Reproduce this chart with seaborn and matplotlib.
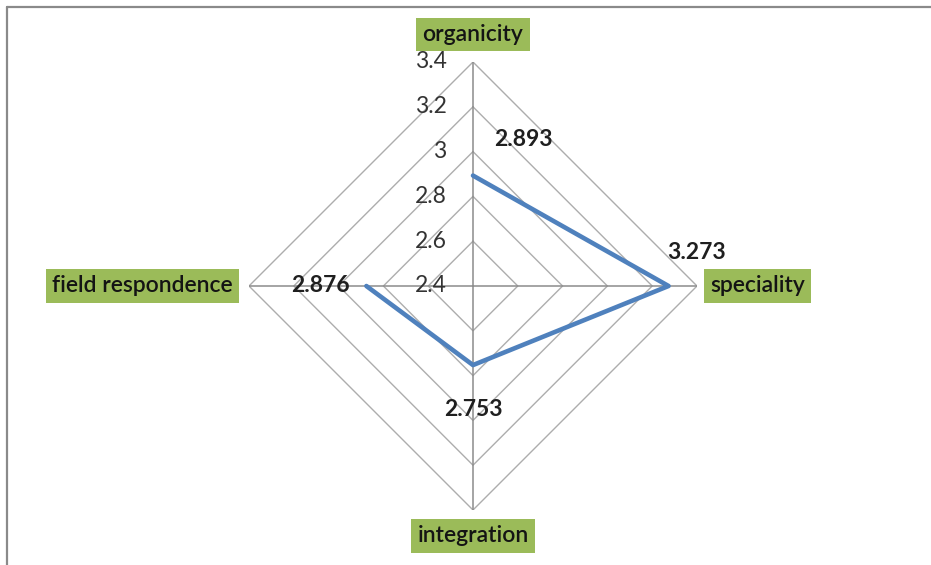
import numpy as np
import pandas as pd
import matplotlib
matplotlib.use("Agg")
import matplotlib.pyplot as plt
from matplotlib.lines import Line2D
import seaborn as sns

categories = ["organicity", "speciality", "integration", "field respondence"]
values = [2.893, 3.273, 2.753, 2.876]
value_labels = ["2.893", "3.273", "2.753", "2.876"]
levels = [2.4, 2.6, 2.8, 3.0, 3.2, 3.4]
level_labels = ["2.4", "2.6", "2.8", "3", "3.2", "3.4"]

sns.set_theme(style="white")
plt.rcParams["font.family"] = ["Lato", "DejaVu Sans"]

W, H = 931, 565
fig = plt.figure(figsize=(W / 100, H / 100), dpi=100)
cx, cy, R = 473, 286, 224
ax = fig.add_axes([(cx - R) / W, (H - cy - R) / H, 2 * R / W, 2 * R / H], projection="polar")
ax.set_theta_offset(np.pi / 2)
ax.set_theta_direction(-1)
ax.set_ylim(levels[0], levels[-1])
ax.grid(False)
ax.spines["polar"].set_visible(False)
ax.set_xticks([])
ax.set_yticks([])
ax.patch.set_alpha(0)

n = len(categories)
thetas = np.arange(n) * 2 * np.pi / n
closed_t = np.append(thetas, thetas[0])

# polygon gridlines
for lv in levels[1:]:
    ax.plot(closed_t, [lv] * (n + 1), color="#ADADAD", lw=1.0, zorder=1)
# spokes
for t in thetas:
    ax.plot([t, t], [levels[0], levels[-1]], color="#8C8C8C", lw=1.1, zorder=1)

df = pd.DataFrame({"theta": closed_t, "r": values + [values[0]]})
sns.lineplot(data=df, x="theta", y="r", sort=False, ax=ax, color="#4F81BD", lw=3.3, zorder=3)
ax.set_xlabel("")
ax.set_ylabel("")
ax.set_ylim(levels[0], levels[-1])

# radial tick labels
for lv, lab in zip(levels, level_labels):
    ax.annotate(lab, xy=(0, lv), xytext=(-19, 0), textcoords="offset points",
                ha="right", va="center", fontsize=16.5, color="#333333", zorder=4)

# value labels
offsets = [(36, 26), (20, 24), (0, -32), (-33, 0)]
for t, v, lab, off in zip(thetas, values, value_labels, offsets):
    ax.annotate(lab, xy=(t, v), xytext=off, textcoords="offset points",
                ha="center", va="center", fontsize=16.5, fontweight="bold",
                color="#1F1F1F", zorder=5)

# category labels
cat_offsets = [(0, 20), (43.5, 0), (0, -18.7), (-77, 0)]
for t, lab, off in zip(thetas, categories, cat_offsets):
    ax.annotate(lab, xy=(t, levels[-1]), xytext=off, textcoords="offset points",
                ha="center", va="center", fontsize=16.5, fontweight="semibold",
                color="#141414", zorder=5,
                bbox=dict(boxstyle="square,pad=0.27", fc="#9BBB59", ec="none"))

# partial frame (top and left)
fig.add_artist(Line2D([6.5 / W, 6.5 / W], [0, 1 - 6.5 / H], transform=fig.transFigure,
                      color="#8A8A8A", lw=1.6))
fig.add_artist(Line2D([6.5 / W, 1], [1 - 6.5 / H, 1 - 6.5 / H], transform=fig.transFigure,
                      color="#8A8A8A", lw=1.6))

fig.savefig("out.png", dpi=100, facecolor="white")
